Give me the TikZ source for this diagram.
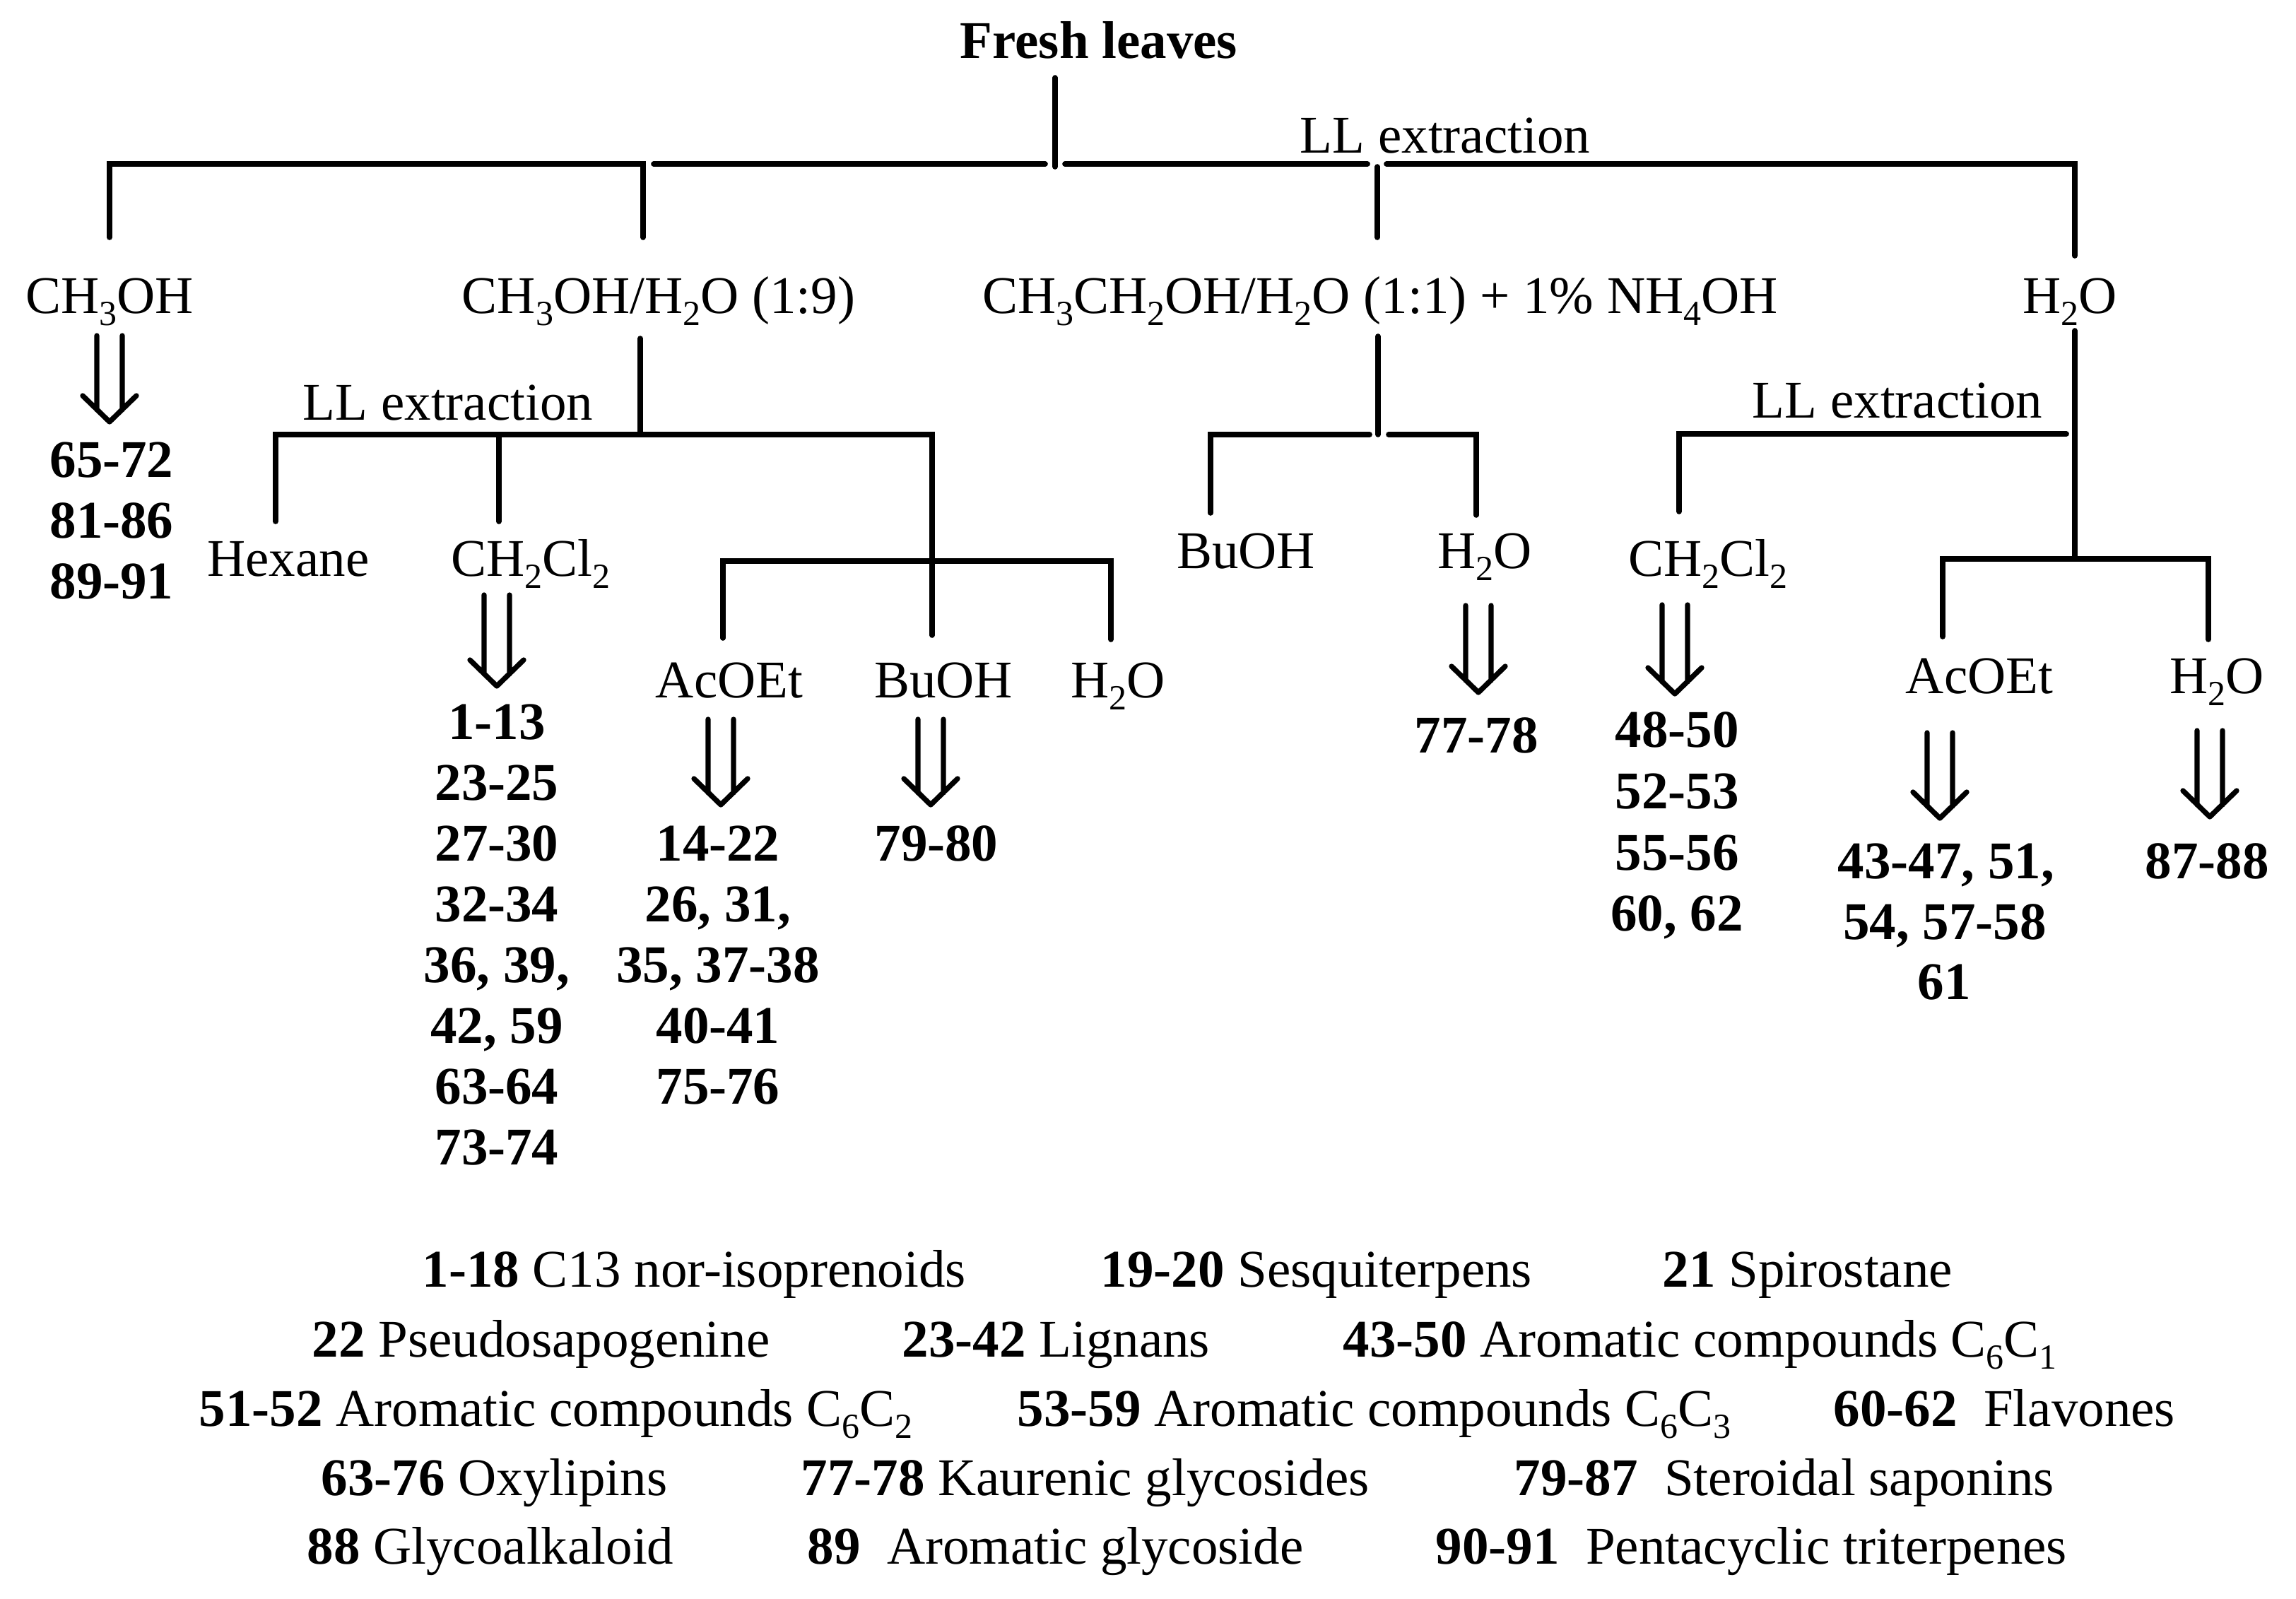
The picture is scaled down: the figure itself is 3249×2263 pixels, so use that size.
\documentclass[tikz,border=0pt]{standalone}
\usepackage{fontspec}
\setmainfont{Liberation Serif}
\newcommand\subs[1]{\raisebox{-0.23em}{\fontsize{15}{15}\selectfont #1}}
\tikzset{
  x=0.3pt, y=-0.3pt,
  ln/.style={line width=2.3pt, line cap=round, line join=miter},
  arr/.style={line width=2.2pt, line cap=round, line join=round},
  lbl/.style={inner sep=0pt, anchor=base, font=\fontsize{22.5}{27}\selectfont},
  num/.style={lbl, font=\fontsize{22.5}{27}\selectfont\bfseries},
  leg/.style={lbl, anchor=base west},
}
% double arrow: #1 = top coordinate, #2 = length
\newcommand\dblarrow[2]{%
  \draw[arr, shift={(#1)}] (-18,0) -- (-18,{#2-17}) (18,0) -- (18,{#2-17})
     (-38,{#2-37}) -- (0,#2) -- (38,{#2-37});}
\begin{document}
\begin{tikzpicture}
\fill[white] (0,0) rectangle (3249,2263);
\useasboundingbox (0,0) rectangle (3249,2263);

% ---------- top level ----------
\node[num] (fresh) at (1555,83) {Fresh leaves};
\node[lbl] (ll0) at (2045,217) {LL extraction};
\node[lbl] (s1) at (155,443) {CH\subs{3}OH};
\node[lbl] (s2) at (932,443) {CH\subs{3}OH/H\subs{2}O (1:9)};
\node[lbl] (s3) at (1953,443) {CH\subs{3}CH\subs{2}OH/H\subs{2}O (1:1) + 1\% NH\subs{4}OH};
\node[lbl] (s4) at (2929,443) {H\subs{2}O};

\coordinate (fa) at (1493,110); \coordinate (fb) at (1493,236);
\coordinate (b1) at (155,336);  \coordinate (b1t) at (155,232);
\coordinate (b2) at (910,336);  \coordinate (b2t) at (910,232);
\coordinate (g1) at (925,232);  \coordinate (g2) at (1479,232);
\coordinate (g3) at (1507,232); \coordinate (g4) at (1935,232);
\coordinate (g5) at (1962,232);
\coordinate (b4t) at (2936,232); \coordinate (b4) at (2936,362);
\coordinate (b3t) at (1949,236); \coordinate (b3) at (1949,336);

\draw[ln] (b1) -- (b1t) -- (b2t) -- (b2);
\draw[ln] (g1) -- (g2);
\draw[ln] (g3) -- (g4);
\draw[ln] (g5) -- (b4t) -- (b4);
\draw[ln] (fa) -- (fb);
\draw[ln] (b3t) -- (b3);

% ---------- CH3OH ----------
\coordinate (a1) at (155,475);
\dblarrow{a1}{122}
\node[num] (n1a) at (158,675) {65-72};
\node[num] (n1b) at (158,761) {81-86};
\node[num] (n1c) at (158,847) {89-91};

% ---------- CH3OH/H2O branch ----------
\coordinate (c0) at (906,479); \coordinate (c1) at (906,615);
\coordinate (hx) at (390,738);  \coordinate (hxt) at (390,615);
\coordinate (dc) at (706,738);  \coordinate (dct) at (706,615);
\coordinate (rt) at (1319,615); \coordinate (rb) at (1319,899);
\coordinate (sa) at (1023,903); \coordinate (sat) at (1023,794);
\coordinate (sw) at (1572,905); \coordinate (swt) at (1572,794);
\draw[ln] (c0) -- (c1);
\draw[ln] (hx) -- (hxt) -- (rt) -- (rb);
\draw[ln] (dct) -- (dc);
\draw[ln] (sa) -- (sat) -- (swt) -- (sw);

\node[lbl] (ll1) at (634,594) {LL extraction};
\node[lbl] (hex) at (408,815) {Hexane};
\node[lbl, anchor=base west] (dcm1) at (638,815) {CH\subs{2}Cl\subs{2}};
\node[lbl] (ac1) at (1032,987) {AcOEt};
\node[lbl] (bu1) at (1335,987) {BuOH};
\node[lbl] (w1) at (1582,987) {H\subs{2}O};

\coordinate (a2) at (703,842);  \dblarrow{a2}{129}
\coordinate (a3) at (1020,1018); \dblarrow{a3}{121}
\coordinate (a4) at (1317,1018); \dblarrow{a4}{121}

\node[num] (d1) at (703,1046) {1-13};
\node[num] (d2) at (703,1132) {23-25};
\node[num] (d3) at (703,1218) {27-30};
\node[num] (d4) at (703,1304) {32-34};
\node[num] (d5) at (703,1390) {36, 39,};
\node[num] (d6) at (703,1476) {42, 59};
\node[num] (d7) at (703,1562) {63-64};
\node[num] (d8) at (703,1648) {73-74};

\node[num] (e1) at (1016,1218) {14-22};
\node[num] (e2) at (1016,1304) {26, 31,};
\node[num] (e3) at (1016,1390) {35, 37-38};
\node[num] (e4) at (1016,1476) {40-41};
\node[num] (e5) at (1016,1562) {75-76};

\node[num] (f1) at (1325,1218) {79-80};

% ---------- CH3CH2OH branch ----------
\coordinate (m0) at (1950,476); \coordinate (m1) at (1950,615);
\coordinate (mb) at (1713,726); \coordinate (mbt) at (1713,615);
\coordinate (mg1) at (1938,615); \coordinate (mg2) at (1965,615);
\coordinate (mwt) at (2089,615); \coordinate (mw) at (2089,729);
\draw[ln] (m0) -- (m1);
\draw[ln] (mb) -- (mbt) -- (mg1);
\draw[ln] (mg2) -- (mwt) -- (mw);

\node[lbl] (bu2) at (1763,804) {BuOH};
\node[lbl] (w2) at (2101,804) {H\subs{2}O};
\coordinate (a5) at (2092,857); \dblarrow{a5}{123}
\node[num] (g77) at (2089,1065) {77-78};

% ---------- H2O branch ----------
\coordinate (r0) at (2936,468); \coordinate (r1) at (2936,791);
\coordinate (rd) at (2376,724); \coordinate (rdt) at (2376,614);
\coordinate (re) at (2924,614);
\coordinate (ra) at (2749,901); \coordinate (rat) at (2749,791);
\coordinate (rw) at (3125,905); \coordinate (rwt) at (3125,791);
\draw[ln] (r0) -- (r1);
\draw[ln] (rd) -- (rdt) -- (re);
\draw[ln] (ra) -- (rat) -- (rwt) -- (rw);

\node[lbl] (ll2) at (2685,591) {LL extraction};
\node[lbl, anchor=base west] (dcm2) at (2304,815) {CH\subs{2}Cl\subs{2}};
\node[lbl] (ac2) at (2801,981) {AcOEt};
\node[lbl] (w3) at (3137,981) {H\subs{2}O};

\coordinate (a6) at (2370,856);  \dblarrow{a6}{126}
\coordinate (a7) at (2745,1037); \dblarrow{a7}{121}
\coordinate (a8) at (3127,1034); \dblarrow{a8}{122}

\node[num] (h1) at (2373,1057) {48-50};
\node[num] (h2) at (2373,1144) {52-53};
\node[num] (h3) at (2373,1231) {55-56};
\node[num] (h4) at (2373,1317) {60, 62};

\node[num] (k1) at (2754,1243) {43-47, 51,};
\node[num] (k2) at (2752,1329) {54, 57-58};
\node[num] (k3) at (2751,1414) {61};

\node[num] (k4) at (3123,1243) {87-88};

% ---------- legend ----------
\node[leg] (L1) at (597,1821)  {\textbf{1-18} C13 nor-isoprenoids};
\node[leg] (L2) at (1557,1821) {\textbf{19-20} Sesquiterpens};
\node[leg] (L3) at (2352,1821) {\textbf{21} Spirostane};
\node[leg] (L4) at (441,1920)  {\textbf{22} Pseudosapogenine};
\node[leg] (L5) at (1276,1920) {\textbf{23-42} Lignans};
\node[leg] (L6) at (1900,1920) {\textbf{43-50} Aromatic compounds C\subs{6}C\subs{1}};
\node[leg] (L7) at (281,2018)  {\textbf{51-52} Aromatic compounds C\subs{6}C\subs{2}};
\node[leg] (L8) at (1439,2018) {\textbf{53-59} Aromatic compounds C\subs{6}C\subs{3}};
\node[leg] (L9) at (2594,2018) {\textbf{60-62}\ \ Flavones};
\node[leg] (L10) at (454,2116) {\textbf{63-76} Oxylipins};
\node[leg] (L11) at (1133,2116) {\textbf{77-78} Kaurenic glycosides};
\node[leg] (L12) at (2142,2116) {\textbf{79-87}\ \ Steroidal saponins};
\node[leg] (L13) at (434,2213) {\textbf{88} Glycoalkaloid};
\node[leg] (L14) at (1142,2213) {\textbf{89}\ \ Aromatic glycoside};
\node[leg] (L15) at (2031,2213) {\textbf{90-91}\ \ Pentacyclic triterpenes};
\end{tikzpicture}
\end{document}
